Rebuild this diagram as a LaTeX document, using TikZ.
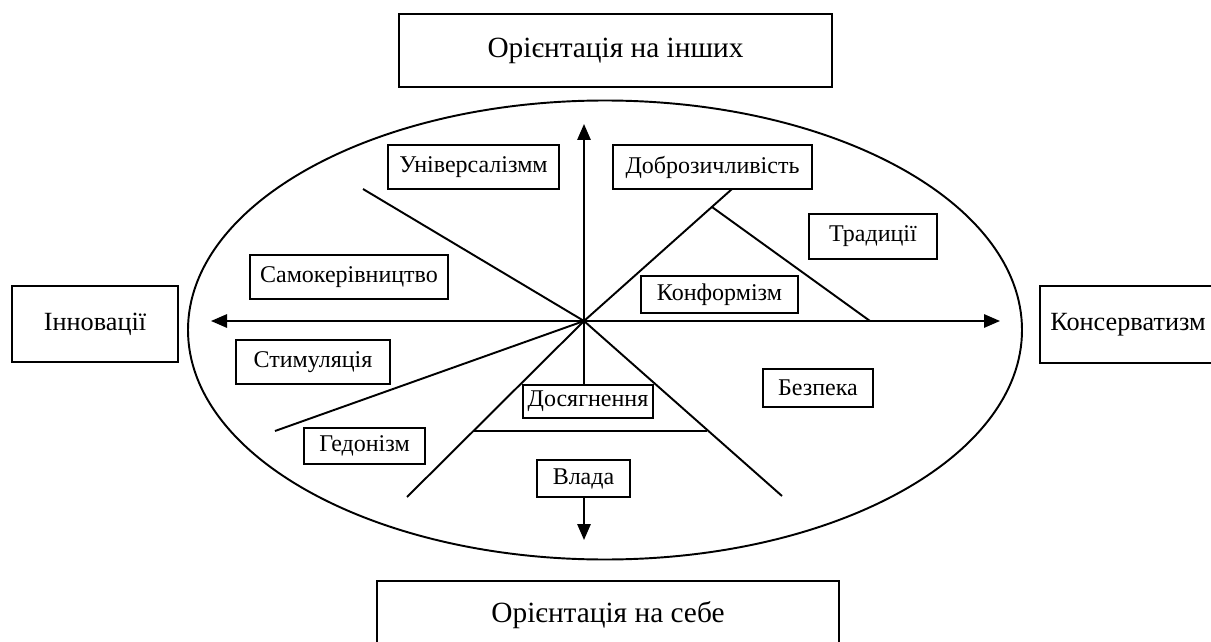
\documentclass[tikz,border=0pt]{standalone}
\usepackage{fontspec}
\setmainfont{Liberation Serif}
\usetikzlibrary{arrows.meta}
\begin{document}
\begin{tikzpicture}[x=0.75pt,y=-0.75pt,
  ln/.style={line width=1.45pt},
  arr/.style={ln,-{Triangle[length=12pt,width=10pt]}},
  bigbox/.style={draw,line width=1.45pt,inner sep=0pt,font=\fontsize{22}{26}\selectfont},
  sidebox/.style={draw,line width=1.45pt,inner sep=0pt,font=\fontsize{19.7}{24}\selectfont},
  valbox/.style={draw,line width=1.45pt,inner sep=0pt,font=\fontsize{18}{22}\selectfont}]
\useasboundingbox (0,0) rectangle (1211,642);
% ellipse
\draw[ln] (605,330) ellipse [x radius=417, y radius=229.5];
% main boxes
\node[bigbox,minimum width=433*0.75pt,minimum height=73*0.75pt] (top) at (615.5,50.5) {Орієнтація на інших};
\node[bigbox,minimum width=462*0.75pt,minimum height=68*0.75pt] (bot) at (608,615) {Орієнтація на себе};
\node[sidebox,minimum width=166*0.75pt,minimum height=76*0.75pt] (inn) at (95,324) {Інновації};
\node[sidebox,minimum width=176*0.75pt,minimum height=77*0.75pt] (kons) at (1128,324.5) {Консерватизм};
% value boxes
\node[valbox,minimum width=171*0.75pt,minimum height=44*0.75pt] (univ) at (473.5,167) {Універсалізмм};
\node[valbox,minimum width=199*0.75pt,minimum height=44*0.75pt] (dobr) at (712.5,167) {Доброзичливість};
\node[valbox,minimum width=128*0.75pt,minimum height=45*0.75pt] (trad) at (873,236.5) {Традиції};
\node[valbox,minimum width=157*0.75pt,minimum height=37*0.75pt] (konf) at (719.5,294.5) {Конформізм};
\node[valbox,minimum width=198*0.75pt,minimum height=44*0.75pt] (samo) at (349,277) {Самокерівництво};
\node[valbox,minimum width=154*0.75pt,minimum height=44*0.75pt] (stym) at (313,362) {Стимуляція};
\node[valbox,minimum width=121*0.75pt,minimum height=36*0.75pt] (hed) at (364.5,446) {Гедонізм};
\node[valbox,minimum width=130*0.75pt,minimum height=33*0.75pt] (dos) at (588,401.5) {Досягнення};
\node[valbox,minimum width=93*0.75pt,minimum height=37*0.75pt] (vlada) at (583.5,478.5) {Влада};
\node[valbox,minimum width=110*0.75pt,minimum height=38*0.75pt] (bez) at (818,388) {Безпека};
% coordinates
\coordinate (O) at (584,321);
\coordinate (hl) at (211,321);
\coordinate (hr) at (1000,321);
\coordinate (vt) at (584,124);
\coordinate (vb) at (584,540);
\coordinate (ul) at (363,189);
\coordinate (sl) at (275,431);
\coordinate (dl) at (407,497);
\coordinate (dr) at (782,496);
\coordinate (db) at (732,189);
\coordinate (t1) at (712,207);
\coordinate (t2) at (870,321);
\coordinate (a1) at (473,431);
\coordinate (a2) at (707,431);
% axes
\draw[arr] (O) -- (hl);
\draw[arr] (O) -- (hr);
\draw[arr] (O) -- (vt);
\draw[ln] (O) -- (dos.north -| O);
\draw[arr] (vlada.south -| vb) -- (vb);
% sector lines
\draw[ln] (O) -- (ul);
\draw[ln] (O) -- (sl);
\draw[ln] (O) -- (dl);
\draw[ln] (O) -- (dr);
\draw[ln] (O) -- (db);
\draw[ln] (t1) -- (t2);
\draw[ln] (a1) -- (a2);
\end{tikzpicture}
\end{document}
